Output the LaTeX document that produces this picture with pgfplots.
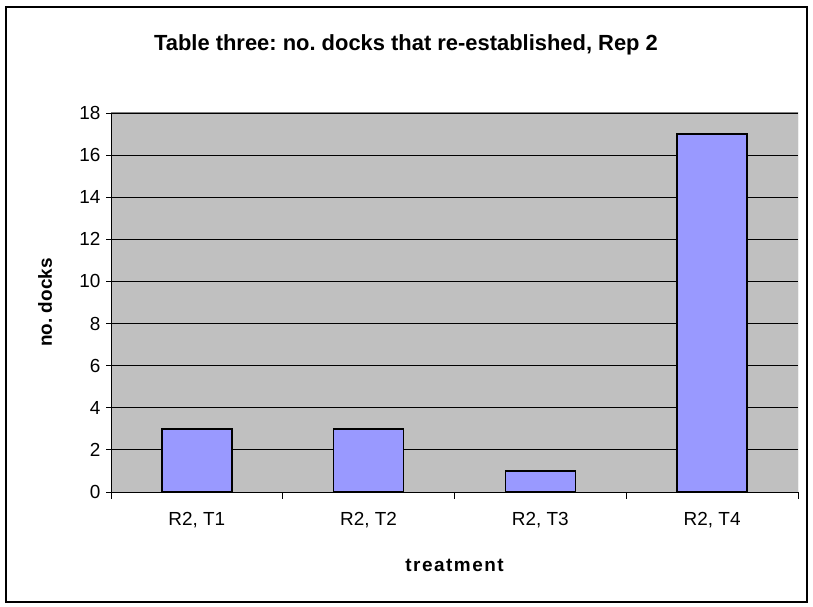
\documentclass[border=0pt]{standalone}
\usepackage{pgfplots}
\pgfplotsset{compat=1.18}
\usepackage{fontspec}
\setmainfont{Liberation Sans}
\frenchspacing
\definecolor{plotgray}{HTML}{C0C0C0}
\definecolor{barblue}{HTML}{9999FF}
\definecolor{framegray}{HTML}{808080}

\begin{document}
\begin{tikzpicture}[x=1bp,y=1bp]
% page size and outer chart frame
\path (0,0) rectangle (813,607);
\draw[black, line width=1.5bp] (6,5) rectangle (807,600);
\node[font=\fontsize{22}{25}\selectfont\bfseries] at (406,562)
  {Table three: no. docks that re-established, Rep 2};
\begin{axis}[
  at={(111bp,115bp)}, anchor=south west,
  scale only axis, width=687bp, height=379bp,
  axis background/.style={fill=plotgray},
  axis x line*=bottom, axis y line*=left,
  axis line style={black, line width=0.8bp},
  xmin=0.5, xmax=4.5, ymin=0, ymax=18,
  ytick={0,2,...,18},
  xtick={1,2,3,4},
  xticklabels={{R2, T1},{R2, T2},{R2, T3},{R2, T4}},
  major x tick style={draw=none},
  extra x ticks={0.5,1.5,2.5,3.5,4.5},
  extra x tick labels={},
  extra x tick style={grid=none, major tick length=7bp, tick align=outside,
    major x tick style={draw=black, line width=0.8bp}},
  ymajorgrids,
  major grid style={black, line width=0.8bp},
  tick align=outside, major tick length=5bp,
  tick style={black, line width=0.8bp},
  ticklabel style={font=\fontsize{19}{21}\selectfont},
  /pgf/number format/assume math mode=true,
  xticklabel style={yshift=-12bp},
  yticklabel style={xshift=-2bp},
  xlabel={\addfontfeature{LetterSpace=8}treatment},
  ylabel={no. docks},
  every axis x label/.style={at={(axis description cs:0.5,-0.193)}, anchor=center,
    font=\fontsize{19}{21}\selectfont\bfseries},
  every axis y label/.style={at={(axis description cs:-0.096,0.5)}, anchor=center,
    rotate=90, font=\fontsize{19}{21}\selectfont\bfseries},
  ybar, bar width=70bp,
]
\addplot[fill=barblue, draw=black, line width=1.5bp] coordinates {
  (1,3) (2,3) (3,1) (4,17)
};
\draw[framegray, line width=1bp] (rel axis cs:0,1) -- (rel axis cs:1,1) -- (rel axis cs:1,0);
\end{axis}
\end{tikzpicture}
\end{document}
